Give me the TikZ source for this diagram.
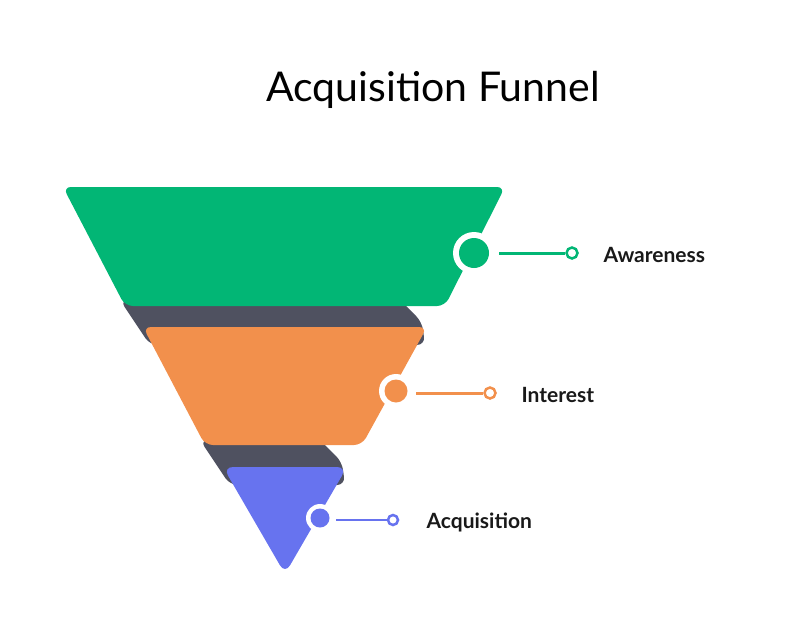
\documentclass[tikz,border=0pt]{standalone}
\usepackage{fontspec}
\setmainfont{Lato}
\definecolor{cg}{HTML}{02B675}
\definecolor{co}{HTML}{F2904C}
\definecolor{cb}{HTML}{6773EF}
\definecolor{cd}{HTML}{4F5160}
\begin{document}
\begin{tikzpicture}[x=1pt,y=-1pt,
  band/.style={rounded corners=8pt},
  big/.style={circle,fill=white,inner sep=0pt},
  endring/.style={circle,draw=#1,fill=white,line width=2.5pt,minimum size=11pt,inner sep=0pt},
  lab/.style={anchor=west,font=\fontsize{21}{24}\selectfont\bfseries,text=black!90}]
\useasboundingbox (0,0) rectangle (800,621);
\node[font=\fontsize{41}{46}\selectfont] (title) at (433,90) {Acquisition Funnel};
% dark bands
\fill[cd,band] (120,300) -- (400,300) -- (422,322) -- (425,345) -- (150,345) -- cycle;
\fill[cd,band] (200,440) -- (320,440) -- (342,462) -- (345,485) -- (230,485) -- cycle;
% funnel
\fill[cg,band] (63,187) -- (505,187) -- (445,306) -- (125,306) -- cycle;
\fill[co,band] (143,327) -- (427,327) -- (362,445) -- (205,445) -- cycle;
\fill[cb,rounded corners=10pt] (223,467) -- (347,467) -- (285,574) -- cycle;
% markers
\node[big,minimum size=42pt] (g0) at (474,253) {};
\node[circle,fill=cg,minimum size=30pt,inner sep=0pt] (g) at (474,253) {};
\node[endring=cg] (g1) at (572,253) {};
\draw[cg,line width=3pt] (g0.east)++(4,0) -- (g1.west);
\node[lab] (t1) at (600,255) {Awareness};
\node[big,minimum size=34pt] (o0) at (396,391) {};
\node[circle,fill=co,minimum size=23pt,inner sep=0pt] (o) at (396,391) {};
\node[endring=co] (o1) at (490,393) {};
\draw[co,line width=3pt] (o0.east)++(3,2) -- (o1.west);
\node[lab] (t2) at (518,395) {Interest};
\node[big,minimum size=28pt] (b0) at (320,518) {};
\node[circle,fill=cb,minimum size=19pt,inner sep=0pt] (b) at (320,518) {};
\node[endring=cb,minimum size=10pt] (b1) at (393,520) {};
\draw[cb,line width=2.5pt] (b0.east)++(2,2) -- (b1.west);
\node[lab] (t3) at (423,522) {Acquisition};
\end{tikzpicture}
\end{document}
